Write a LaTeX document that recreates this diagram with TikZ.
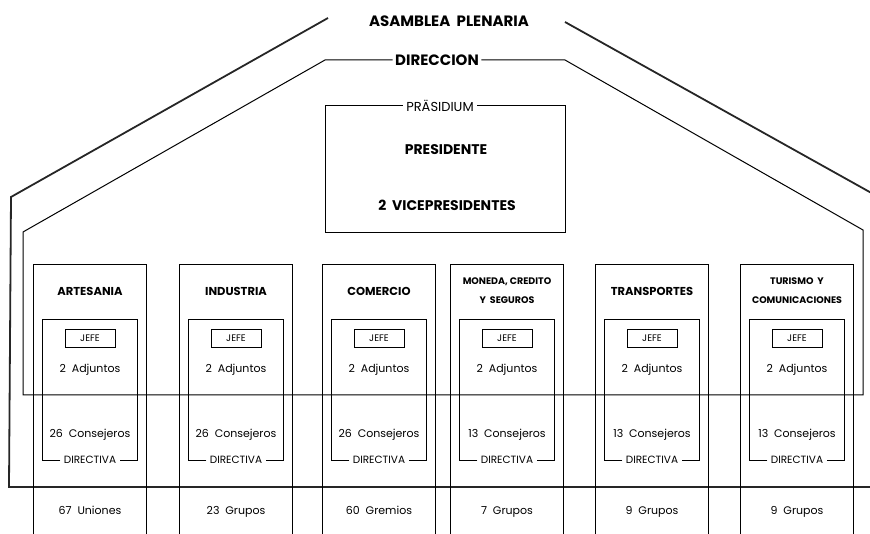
\documentclass[tikz,border=0pt]{standalone}
\usepackage{fontspec}
\setmainfont{Poppins}
\begin{document}
\begin{tikzpicture}[x=1pt,y=-1pt,line width=1pt,
  head/.style={font=\fontsize{15}{17}\selectfont\bfseries, inner sep=2pt},
  title/.style={font=\fontsize{11.5}{19}\selectfont\bfseries, align=center},
  thintitle/.style={font=\fontsize{9.5}{19}\selectfont\bfseries, align=center},
  body/.style={font=\fontsize{11}{13}\selectfont, text height=8pt, text depth=2.5pt},
  tag/.style={font=\fontsize{10.5}{12}\selectfont, inner sep=3pt},
  jefebox/.style={draw, line width=0.8pt, font=\fontsize{9.5}{11}\selectfont, minimum width=50pt, minimum height=18pt, inner sep=0pt},
  asamline/.style={line width=1.8pt, black!85}]

  % Page frame
  \useasboundingbox (0,0) rectangle (870,534);
  \clip (0,0) rectangle (870,534);

  % Asamblea plenaria
  \node[head] (asam) at (449,21) {ASAMBLEA\ \ PLENARIA};
  \coordinate (asamL) at (328,18);
  \coordinate (asamR) at (565,22);
  \draw[asamline] (asamL) -- (11,197) -- (9,487) -- (875,487);
  \draw[asamline] (asamR) -- (884,200);

  % Direccion
  \node[head] (direc) at (437,60) {DIRECCION};
  \draw (direc.west) -- (325,60) -- (23,232) -- (23,395) -- (863,395) -- (863,230) -- (565,60) -- (direc.east);

  % Prasidium
  \node[tag, font=\fontsize{13}{15}\selectfont] (pras) at (440,106) {PRÄSIDIUM};
  \draw (pras.west) -| (325,233) -| (565,106) -- (pras.east);
  \node[font=\fontsize{14}{16}\selectfont\bfseries] (pres) at (446,150) {PRESIDENTE};
  \node[font=\fontsize{14}{16}\selectfont\bfseries] (vice) at (447,205) {2\ \ VICEPRESIDENTES};

  % Columns
  \foreach \x/\tstyle/\name/\cons/\base [count=\i] in {
      90/title/ARTESANIA/26/67\ \ Uniones,
      236/title/INDUSTRIA/26/23\ \ Grupos,
      379/title/COMERCIO/26/60\ \ Gremios,
      507/thintitle/{MONEDA, CREDITO\\Y\ \ SEGUROS}/13/7\ \ Grupos,
      652/title/TRANSPORTES/13/9\ \ Grupos,
      797/thintitle/{TURISMO\ \ Y\\COMUNICACIONES}/13/9\ \ Grupos} {
    \draw (\x-56.5,540) -- (\x-56.5,265) -- (\x+56.5,265) -- (\x+56.5,540);
    \node[\tstyle] (title\i) at (\x,291) {\name};
    \node[jefebox] (jefe\i) at (\x,338) {JEFE};
    \node[body] (adj\i) at (\x,370) {2\ \ Adjuntos};
    \node[body] (cons\i) at (\x,435) {\cons\ \ Consejeros};
    \node[tag] (dir\i) at (\x,460) {DIRECTIVA};
    \draw (dir\i.west) -| (\x-47.5,320) -| (\x+47.5,460) -- (dir\i.east);
    \node[body] (base\i) at (\x,512) {\base};
  }
\end{tikzpicture}
\end{document}
